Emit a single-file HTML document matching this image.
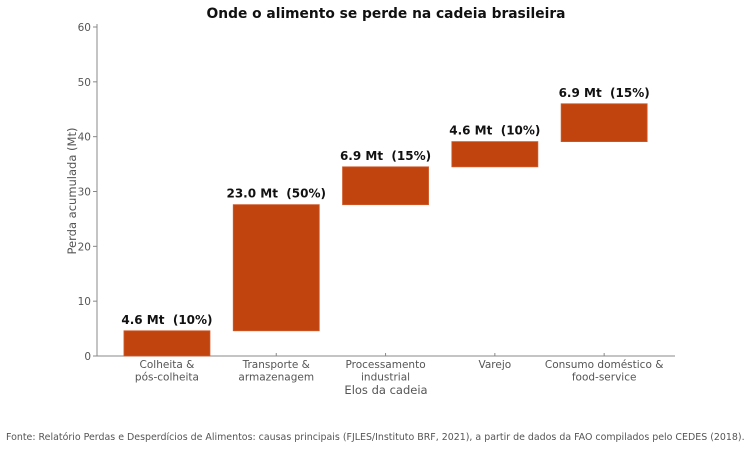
<!DOCTYPE html>
<html><head><meta charset="utf-8"><style>
body{margin:0;background:#fff;width:754px;height:447px;overflow:hidden;font-family:"DejaVu Sans","Liberation Sans",sans-serif}
</style></head><body>
<svg id="chart" width="754" height="447" xmlns="http://www.w3.org/2000/svg" font-family="DejaVu Sans, Liberation Sans, sans-serif">
<text x="386" y="18" text-anchor="middle" font-size="13.8" font-weight="bold" fill="#111">Onde o alimento se perde na cadeia brasileira</text>
<g id="yaxis"></g>
<g id="bars"></g>
<text transform="translate(76,191) rotate(-90)" text-anchor="middle" font-size="11.5" fill="#555">Perda acumulada (Mt)</text>
<text x="386" y="394" text-anchor="middle" font-size="11.5" fill="#555">Elos da cadeia</text>
<text x="6" y="440" font-size="9.45" fill="#555">Fonte: Relatório Perdas e Desperdícios de Alimentos: causas principais (FJLES/Instituto BRF, 2021), a partir de dados da FAO compilados pelo CEDES (2018).</text>
</svg>
<script>
const categories = [["Colheita &","pós-colheita"],["Transporte &","armazenagem"],["Processamento","industrial"],["Varejo"],["Consumo doméstico &","food-service"]];
const values = [4.6, 23.0, 6.9, 4.6, 6.9];
const shares = [10, 50, 15, 10, 15];
const yTicks = [0,10,20,30,40,50,60];
const NS="http://www.w3.org/2000/svg";
const x0=97,x1=675,y0=356,yTop=27,yMax=60;
const y=v=>y0-(v/yMax)*(y0-yTop);
const bandStart=112.3,step=109.3;
const xc=i=>bandStart+step*(i+0.5);
const bw=86;
function mk(t,a,p){const e=document.createElementNS(NS,t);for(const k in a)e.setAttribute(k,a[k]);p.appendChild(e);return e;}
const ya=document.getElementById('yaxis'),bars=document.getElementById('bars');
let l=mk('line',{x1:x0,y1:yTop-3,x2:x0,y2:y0,stroke:'#888','stroke-width':1},ya);


l=mk('line',{x1:x0,y1:y0,x2:x1,y2:y0,stroke:'#888','stroke-width':1},ya);


yTicks.forEach(t=>{
 mk('line',{x1:x0-4,x2:x0,y1:y(t),y2:y(t),stroke:'#888'},ya);
 const tx=mk('text',{x:x0-6,y:y(t)+4,'text-anchor':'end','font-size':10.5,fill:'#555'},ya);
 tx.textContent=t;
 
 
});
let cum=0;
values.forEach((v,i)=>{
 const r=mk('rect',{x:xc(i)-bw/2,y:y(cum+v),width:bw,height:y(cum)-y(cum+v),fill:'#c1440e',stroke:'#d05a2a','stroke-width':0.8},bars);
 
 
 const lb=mk('text',{x:xc(i),y:y(cum+v)-7,'text-anchor':'middle','font-size':12,'font-weight':'bold',fill:'#111'},bars);
 lb.textContent=v.toFixed(1)+' Mt  ('+shares[i]+'%)';
 lb.style.whiteSpace='pre';
 
 
 mk('line',{x1:xc(i),x2:xc(i),y1:y0,y2:y0-3,stroke:'#888'},ya);
 categories[i].forEach((s,j)=>{
  const c=mk('text',{x:xc(i),y:y0+12+j*12.5,'text-anchor':'middle','font-size':10.5,fill:'#555'},ya);
  c.textContent=s;
  
  
 });
 cum+=v;
});
</script>
</body></html>
